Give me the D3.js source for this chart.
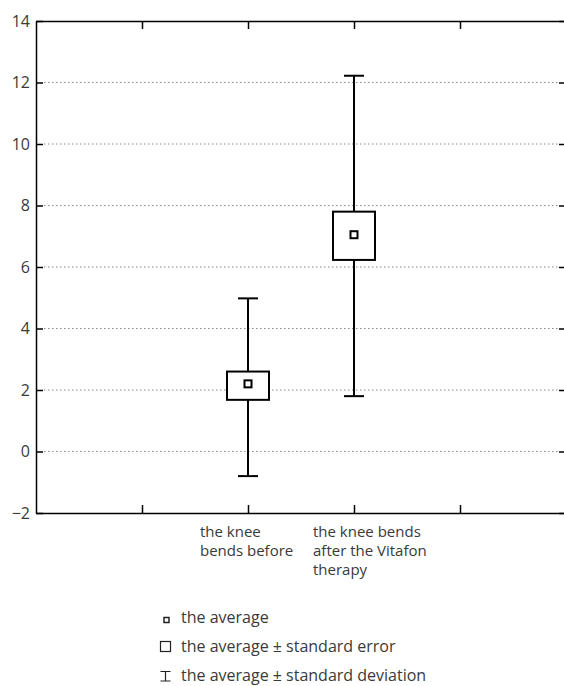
<!DOCTYPE html>
<html>
<head>
<meta charset="utf-8">
<script src="https://cdn.jsdelivr.net/npm/d3@7"></script>
<style>
  body { margin: 0; background: #fff; }
  svg { display: block; font-family: "Open Sans", sans-serif; }
  .lbl { font-size: 16px; fill: #3a3a3a; }
  .cat { font-size: 15px; fill: #3a3a3a; }
  .grid line { stroke: #888; stroke-width: 1; stroke-dasharray: 1.5,2.5; }
</style>
</head>
<body>
<svg id="chart" width="564" height="686"></svg>
<script>
// categories and values
var categories = [["the knee", "bends before"], ["the knee bends", "after the Vitafon", "therapy"]];
var slots = [2, 3];              // position of each group on the x scale (0..5)
var means = [2.2, 7.05];
var seLow = [1.68, 6.23];
var seHigh = [2.6, 7.8];
var sdLow = [-0.8, 1.8];
var sdHigh = [4.98, 12.22];
var yTicks = [-2, 0, 2, 4, 6, 8, 10, 12, 14];
var gridTicks = [0, 2, 4, 6, 8, 10, 12];
var xTicks = [1, 2, 3, 4];
var legendItems = ["the average", "the average \u00b1 standard error", "the average \u00b1 standard deviation"];

var svg = d3.select("#chart");
var mLeft = 36, mRight = 566, mTop = 21, mBottom = 513;

var x = d3.scaleLinear().domain([0, 5]).range([mLeft, mRight]);
var y = d3.scaleLinear().domain([-2, 14]).range([mBottom, mTop]);

// dotted grid
svg.append("g").attr("class", "grid")
  .selectAll("line").data(gridTicks).enter().append("line")
  .attr("x1", mLeft + 8).attr("x2", mRight - 8)
  .attr("y1", d => y(d)).attr("y2", d => y(d));

// axes, ticks pointing inside
function styleAxis(g) {
  g.selectAll("path, line").attr("stroke", "#000").attr("stroke-width", 1.5);
  g.selectAll("text").remove();
}
svg.append("g").attr("transform", "translate(" + mLeft + ",0)")
  .call(d3.axisLeft(y).tickValues(yTicks).tickSize(-7).tickSizeOuter(0)).call(styleAxis);
svg.append("g").attr("transform", "translate(" + mRight + ",0)")
  .call(d3.axisRight(y).tickValues(yTicks).tickSize(-7).tickSizeOuter(0)).call(styleAxis);
svg.append("g").attr("transform", "translate(0," + mBottom + ")")
  .call(d3.axisBottom(x).tickValues(xTicks).tickSize(-8).tickSizeOuter(0)).call(styleAxis);
svg.append("g").attr("transform", "translate(0," + mTop + ")")
  .call(d3.axisTop(x).tickValues(xTicks).tickSize(-8).tickSizeOuter(0)).call(styleAxis);

// y tick labels
svg.selectAll(".ylab").data(yTicks).enter().append("text")
  .attr("class", "lbl")
  .attr("x", 30).attr("y", d => y(d) + 5.5)
  .attr("text-anchor", "end")
  .text(d => d < 0 ? "\u2212" + Math.abs(d) : d);

// category labels: left-aligned lines under each tick
var labelShift = [-48, -41];
categories.forEach(function(lines, i) {
  svg.append("g").selectAll("text").data(lines).enter().append("text")
    .attr("class", "cat")
    .attr("x", x(slots[i]) + labelShift[i])
    .attr("y", (d, j) => 537 + j * 19)
    .text(d => d);
});

// error bars
var groups = svg.selectAll(".grp").data(means).enter().append("g");
groups.append("line")
  .attr("x1", (d, i) => x(slots[i])).attr("x2", (d, i) => x(slots[i]))
  .attr("y1", (d, i) => y(sdLow[i])).attr("y2", (d, i) => y(sdHigh[i]))
  .attr("stroke", "#000").attr("stroke-width", 2);
[sdLow, sdHigh].forEach(function(arr) {
  groups.append("line")
    .attr("x1", (d, i) => x(slots[i]) - 10).attr("x2", (d, i) => x(slots[i]) + 10)
    .attr("y1", (d, i) => y(arr[i])).attr("y2", (d, i) => y(arr[i]))
    .attr("stroke", "#000").attr("stroke-width", 2);
});
groups.append("rect")
  .attr("x", (d, i) => x(slots[i]) - 21).attr("width", 42)
  .attr("y", (d, i) => y(seHigh[i])).attr("height", (d, i) => y(seLow[i]) - y(seHigh[i]))
  .attr("fill", "#fff").attr("stroke", "#000").attr("stroke-width", 2);
groups.append("rect")
  .attr("x", (d, i) => x(slots[i]) - 3.5).attr("width", 7)
  .attr("y", d => y(d) - 3.5).attr("height", 7)
  .attr("fill", "#fff").attr("stroke", "#000").attr("stroke-width", 2);

// legend
var lg = svg.append("g");
lg.selectAll("text").data(legendItems).enter().append("text")
  .attr("class", "lbl")
  .attr("x", 181).attr("y", (d, i) => 623 + i * 29)
  .text(d => d);
lg.append("rect").attr("x", 164).attr("y", 617.5).attr("width", 5).attr("height", 5)
  .attr("fill", "#fff").attr("stroke", "#222").attr("stroke-width", 1.5);
lg.append("rect").attr("x", 160.5).attr("y", 641.5).attr("width", 10).attr("height", 10)
  .attr("fill", "#fff").attr("stroke", "#222").attr("stroke-width", 1.2);
lg.append("path").attr("d", "M160.5,671.5H170.5M165.5,671.5V681M160.5,681H170.5")
  .attr("fill", "none").attr("stroke", "#222").attr("stroke-width", 1.2);
</script>
</body>
</html>
